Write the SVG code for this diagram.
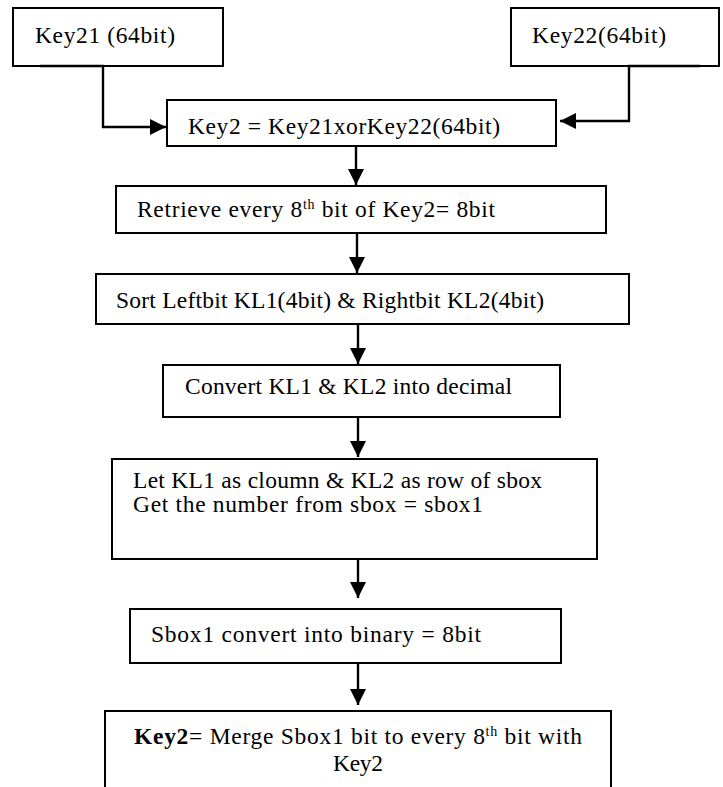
<svg xmlns="http://www.w3.org/2000/svg" width="723" height="787" viewBox="0 0 723 787">
<style>
.box{fill:#fff;stroke:#000;stroke-width:2}
.t{font-family:"Liberation Serif","Times New Roman",serif;font-size:23.5px;fill:#000}
.sup{font-size:14px}
.c{fill:none;stroke:#000;stroke-width:2.4}
</style>
<defs>
<marker id="ah" markerUnits="userSpaceOnUse" markerWidth="18" markerHeight="18" viewBox="0 0 18 18" refX="16" refY="9" orient="auto">
<path d="M0,1 L16,9 L0,17 Z" fill="#000"/>
</marker>
</defs>
<rect width="723" height="787" fill="#fff"/>
<g id="key21"><rect class="box" x="13" y="8" width="210" height="58"/><text class="t" x="35" y="43" textLength="140">Key21 (64bit)</text></g>
<g id="key22"><rect class="box" x="511" y="8" width="208" height="58"/><text class="t" x="532" y="43" textLength="134">Key22(64bit)</text></g>
<g id="key2xor"><rect class="box" x="167" y="100" width="389" height="46"/><text class="t" x="188" y="134" textLength="312">Key2 = Key21xorKey22(64bit)</text></g>
<g id="retrieve"><rect class="box" x="116" y="186" width="490" height="47"/><text class="t" x="137" y="217" textLength="358">Retrieve every 8<tspan class="sup" dy="-8">th</tspan><tspan dy="8"> bit of Key2= 8bit</tspan></text></g>
<g id="sort"><rect class="box" x="96" y="274" width="533" height="50"/><text class="t" x="116" y="308" textLength="428">Sort Leftbit KL1(4bit) &amp; Rightbit KL2(4bit)</text></g>
<g id="convert"><rect class="box" x="163" y="365" width="397" height="52"/><text class="t" x="185" y="394" textLength="327">Convert KL1 &amp; KL2 into decimal</text></g>
<g id="sboxlookup"><rect class="box" x="112" y="459" width="485" height="100"/><text class="t" x="133" y="488" textLength="409">Let KL1 as cloumn &amp; KL2 as row of sbox</text><text class="t" x="133" y="512" textLength="350">Get the number from sbox = sbox1</text></g>
<g id="sbox1bin"><rect class="box" x="130" y="609" width="431" height="54"/><text class="t" x="151" y="642" textLength="330">Sbox1 convert into binary = 8bit</text></g>
<g id="merge"><rect class="box" x="105" y="711" width="506" height="90"/><text class="t" x="134" y="744" textLength="448"><tspan font-weight="bold">Key2</tspan>= Merge Sbox1 bit to every 8<tspan class="sup" dy="-8">th</tspan><tspan dy="8"> bit with</tspan></text><text class="t" x="333" y="771" textLength="50">Key2</text></g>
<g id="connectors">
<path class="c" d="M40,66 H103 V127 H166" marker-end="url(#ah)"/>
<path class="c" d="M700,66 H629 V121 H560" marker-end="url(#ah)"/>
<path class="c" d="M356,146 V185" marker-end="url(#ah)"/>
<path class="c" d="M357,233 V273" marker-end="url(#ah)"/>
<path class="c" d="M358,324 V364" marker-end="url(#ah)"/>
<path class="c" d="M358,417 V457" marker-end="url(#ah)"/>
<path class="c" d="M358,559 V598" marker-end="url(#ah)"/>
<path class="c" d="M358,663 V705" marker-end="url(#ah)"/>
</g>
</svg>
